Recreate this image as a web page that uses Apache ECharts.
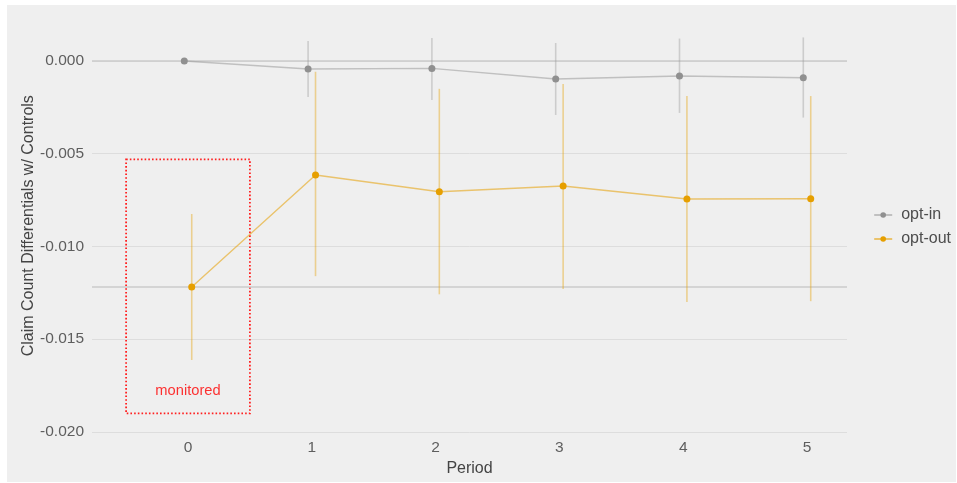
<!DOCTYPE html>
<html>
<head>
<meta charset="utf-8">
<script src="https://cdn.jsdelivr.net/npm/echarts@6/dist/echarts.min.js"></script>
<style>
  html, body { margin: 0; padding: 0; background: #ffffff; }
  #chart { width: 957px; height: 483px; }
</style>
</head>
<body>
<div id="chart"></div>
<script>
// Periods and estimates with their confidence bounds
const periods = [0, 1, 2, 3, 4, 5];
const periodTicks = [0, 1, 2, 3, 4, 5];
const yTicks = [0, -0.005, -0.010, -0.015, -0.020];

const optInEst  = [0, -0.00043, -0.00040, -0.00097, -0.00081, -0.00090];
const optInLow  = [0, -0.00194, -0.00210, -0.00291, -0.00280, -0.00305];
const optInHigh = [0,  0.00108,  0.00124,  0.00097,  0.00121,  0.00127];

const optOutEst  = [-0.01218, -0.00615, -0.00705, -0.00674, -0.00744, -0.00743];
const optOutLow  = [-0.01612, -0.01160, -0.01258, -0.01229, -0.01300, -0.01295];
const optOutHigh = [-0.00825, -0.00058, -0.00150, -0.00124, -0.00189, -0.00189];

// Horizontal reference lines: zero and the monitored opt-out estimate
const refLines = [0, optOutEst[0]];

// Highlighted monitored period
const monitoredBox = { x0: -0.5, x1: 0.5, y0: -0.0053, y1: -0.0190 };
const monitoredLabel = { x: 0, y: -0.0178, text: 'monitored' };

const groups = [
  { name: 'opt-in',  est: optInEst,  low: optInLow,  high: optInHigh,  shift: -0.03, color: '#999999', point: '#909090' },
  { name: 'opt-out', est: optOutEst, low: optOutLow, high: optOutHigh, shift:  0.03, color: '#E69F00', point: '#E69F00' }
];

const FONT = '"Liberation Sans", Arial, Helvetica, sans-serif';
const chart = echarts.init(document.getElementById('chart'), null, { renderer: 'canvas' });

const series = [];

// Reference lines spanning the full panel width
series.push({
  type: 'custom',
  silent: true,
  z: 1,
  data: refLines.map(v => [v]),
  encode: { y: 0 },
  renderItem: (params, api) => {
    const cs = params.coordSys;
    const y = api.coord([0, api.value(0)])[1];
    return {
      type: 'line',
      shape: { x1: cs.x, y1: y, x2: cs.x + cs.width, y2: y },
      style: { stroke: '#cbcbcb', lineWidth: 1.5 }
    };
  }
});

// Error bars
groups.forEach(g => {
  series.push({
    type: 'custom',
    name: g.name + ' range',
    clip: false,
    silent: true,
    z: 2,
    data: periods.map((p, i) => [p + g.shift, g.low[i], g.high[i]]),
    renderItem: (params, api) => {
      const a = api.coord([api.value(0), api.value(1)]);
      const b = api.coord([api.value(0), api.value(2)]);
      return {
        type: 'line',
        shape: { x1: a[0], y1: a[1], x2: b[0], y2: b[1] },
        style: { stroke: g.color, lineWidth: 1.6, opacity: 0.4 }
      };
    }
  });
});

// Estimate lines with points
groups.forEach(g => {
  series.push({
    type: 'line',
    name: g.name,
    clip: false,
    z: 3,
    data: periods.map((p, i) => [p + g.shift, g.est[i]]),
    symbol: 'circle',
    symbolSize: 7,
    showSymbol: true,
    itemStyle: { color: g.point },
    lineStyle: { color: g.color, width: 1.4, opacity: 0.55 },
    emphasis: { disabled: true }
  });
});

// Dotted box and its label
series.push({
  type: 'scatter',
  silent: true,
  symbolSize: 0,
  z: 5,
  data: [[monitoredLabel.x, monitoredLabel.y]],
  label: {
    show: true,
    position: 'inside',
    formatter: monitoredLabel.text,
    color: '#ff0000',
    fontSize: 14.7,
    fontFamily: FONT
  },
  markArea: {
    silent: true,
    itemStyle: {
      color: 'rgba(0,0,0,0)',
      borderColor: '#ff2020',
      borderWidth: 1.8,
      borderType: [1.6, 2.1]
    },
    data: [[
      { coord: [monitoredBox.x0, monitoredBox.y0] },
      { coord: [monitoredBox.x1, monitoredBox.y1] }
    ]]
  }
});

chart.setOption({
  animation: false,
  backgroundColor: '#ffffff',
  graphic: [{
    type: 'rect',
    z: -10,
    silent: true,
    shape: { x: 7, y: 5, width: 949, height: 477 },
    style: { fill: '#efefef' }
  }],
  textStyle: { fontFamily: FONT },
  grid: { left: 92, right: 110, top: 18.7, bottom: 50.3, containLabel: false },
  legend: {
    orient: 'vertical',
    right: 6,
    top: 207,
    padding: 0,
    itemWidth: 18,
    itemHeight: 7,
    itemGap: 8,
    textStyle: { color: '#4d4d4d', fontSize: 16, fontFamily: FONT, padding: [0, 0, 0, 4] },
    data: groups.map(g => g.name)
  },
  xAxis: {
    type: 'value',
    min: -0.7755,
    max: 5.323,
    name: 'Period',
    nameLocation: 'middle',
    nameGap: 28,
    nameMoveOverlap: false,
    nameTextStyle: { color: '#444444', fontSize: 16, fontFamily: FONT },
    axisLine: { show: false },
    axisTick: { show: false, customValues: periodTicks },
    splitLine: { show: false },
    axisLabel: {
      customValues: periodTicks,
      color: '#5e5e5e',
      fontSize: 15.5,
      margin: 7,
      fontFamily: FONT,
      formatter: v => String(Math.round(v))
    }
  },
  yAxis: {
    type: 'value',
    min: -0.02004,
    max: 0.00228,
    name: 'Claim Count Differentials w/ Controls',
    nameLocation: 'middle',
    nameGap: 55,
    nameMoveOverlap: false,
    nameTextStyle: { color: '#444444', fontSize: 16, fontFamily: FONT },
    axisLine: { show: false },
    axisTick: { show: false, customValues: yTicks },
    splitLine: { show: true, lineStyle: { color: '#dddddd', width: 1 } },
    axisLabel: {
      customValues: yTicks,
      color: '#5e5e5e',
      fontSize: 15.5,
      margin: 8,
      fontFamily: FONT,
      formatter: v => v.toFixed(3)
    }
  },
  series: series
});
</script>
</body>
</html>
